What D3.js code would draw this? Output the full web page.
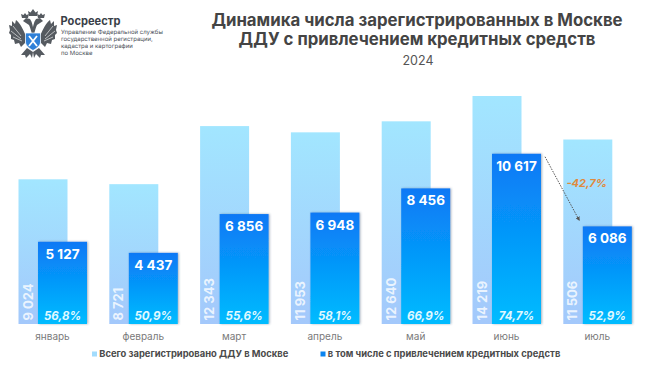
<!DOCTYPE html>
<html>
<head>
<meta charset="utf-8">
<script src="https://cdn.jsdelivr.net/npm/d3@7"></script>
<style>
  html, body { margin: 0; padding: 0; background: #fff; }
  text { font-family: Inter, "Noto Sans", sans-serif; }
  .org-line { text-rendering: geometricPrecision; }
</style>
</head>
<body>
<div id="chart"></div>
<script>
const months = ['январь', 'февраль', 'март', 'апрель', 'май', 'июнь', 'июль'];
const totalValues = [9024, 8721, 12343, 11953, 12640, 14219, 11506];
const creditValues = [5127, 4437, 6856, 6948, 8456, 10617, 6086];
const shareLabels = ['56,8%', '50,9%', '55,6%', '58,1%', '66,9%', '74,7%', '52,9%'];
const legendLabels = ['Всего зарегистрировано ДДУ в Москве', 'в том числе с привлечением кредитных средств'];
const orgSubtitle = ['Управление Федеральной службы', 'государственной регистрации,', 'кадастра и картографии', 'по Москве'];
const titleLines = ['Динамика числа зарегистрированных в Москве', 'ДДУ с привлечением кредитных средств'];

const width = 650, height = 366;
const baseY = 324;
const barW = 49, barOffset = 19.5;

const fmt = d => String(d).replace(/\B(?=(\d{3})+$)/g, ' ');

const svg = d3.select('#chart').append('svg')
    .attr('width', width)
    .attr('height', height)
    .style('display', 'block');

const defs = svg.append('defs');

const lightGrad = defs.append('linearGradient')
    .attr('id', 'lightGrad').attr('x1', 0).attr('x2', 0).attr('y1', 0).attr('y2', 1);
lightGrad.append('stop').attr('offset', '0%').attr('stop-color', '#a2e6ff');
lightGrad.append('stop').attr('offset', '100%').attr('stop-color', '#a3c8fb');

const darkGrad = defs.append('linearGradient')
    .attr('id', 'darkGrad').attr('x1', 0).attr('x2', 0).attr('y1', 0).attr('y2', 1);
darkGrad.append('stop').attr('offset', '0%').attr('stop-color', '#0a78f5');
darkGrad.append('stop').attr('offset', '100%').attr('stop-color', '#00bcff');

const shadow = defs.append('filter').attr('id', 'barShadow')
    .attr('x', '-10%').attr('y', '-10%').attr('width', '125%').attr('height', '120%');
shadow.append('feDropShadow')
    .attr('dx', 1).attr('dy', 0).attr('stdDeviation', 1)
    .attr('flood-color', '#33506e').attr('flood-opacity', 0.45);

defs.append('marker')
    .attr('id', 'arrow').attr('viewBox', '0 0 6 6')
    .attr('refX', 5).attr('refY', 3)
    .attr('markerWidth', 4.5).attr('markerHeight', 4.5)
    .attr('orient', 'auto')
    .append('path').attr('d', 'M0,0L6,3L0,6Z').attr('fill', '#555');

// scales
const x = d3.scaleBand()
    .domain(months)
    .range([18.5, 18.5 + 90.8 * 7])
    .paddingInner(0)
    .paddingOuter(0);

const y = d3.scaleLinear()
    .domain([0, 14219])
    .range([baseY, 96]);

// light bars
svg.append('g').selectAll('rect')
    .data(months)
    .join('rect')
    .attr('x', d => x(d))
    .attr('y', (d, i) => y(totalValues[i]))
    .attr('width', barW)
    .attr('height', (d, i) => baseY - y(totalValues[i]))
    .attr('fill', 'url(#lightGrad)');

// dark bars
svg.append('g').selectAll('rect')
    .data(months)
    .join('rect')
    .attr('x', d => x(d) + barOffset)
    .attr('y', (d, i) => y(creditValues[i]))
    .attr('width', barW)
    .attr('height', (d, i) => baseY - y(creditValues[i]))
    .attr('fill', 'url(#darkGrad)')
    .attr('filter', 'url(#barShadow)');

// vertical totals
svg.append('g').selectAll('text')
    .data(months)
    .join('text')
    .attr('transform', d => `translate(${x(d) + 14},${baseY - 3.5}) rotate(-90)`)
    .attr('font-size', 13)
    .attr('font-weight', 700)
    .attr('fill', '#fff')
    .attr('fill-opacity', 0.8)
    .text((d, i) => fmt(totalValues[i]));

// credit values
svg.append('g').selectAll('text')
    .data(months)
    .join('text')
    .attr('x', d => x(d) + barOffset + barW / 2)
    .attr('y', (d, i) => y(creditValues[i]) + 17)
    .attr('text-anchor', 'middle')
    .attr('font-size', 13.5)
    .attr('font-weight', 700)
    .attr('fill', '#fff')
    .text((d, i) => fmt(creditValues[i]));

// shares
svg.append('g').selectAll('text')
    .data(months)
    .join('text')
    .attr('x', d => x(d) + barOffset + barW / 2)
    .attr('y', baseY - 4.5)
    .attr('text-anchor', 'middle')
    .attr('font-size', 11.5)
    .attr('font-weight', 700)
    .attr('font-style', 'italic')
    .attr('fill', '#e0f9ff')
    .text((d, i) => shareLabels[i]);

// month labels
svg.append('g').selectAll('text')
    .data(months)
    .join('text')
    .attr('x', d => x(d) + 34)
    .attr('y', 339.5)
    .attr('text-anchor', 'middle')
    .attr('font-size', 10)
    .attr('fill', '#7a7a7a')
    .text(d => d);

// June -> July arrow
const jun = months.indexOf('июнь'), jul = months.indexOf('июль');
svg.append('line')
    .attr('x1', x(months[jun]) + barOffset + barW + 4)
    .attr('y1', y(creditValues[jun]) + 3)
    .attr('x2', x(months[jul]) + 16)
    .attr('y2', y(creditValues[jul]) - 6)
    .attr('stroke', '#555')
    .attr('stroke-width', 1)
    .attr('stroke-dasharray', '1.5 1.2')
    .attr('marker-end', 'url(#arrow)');

svg.append('text')
    .attr('x', 586.7)
    .attr('y', 186.7)
    .attr('text-anchor', 'middle')
    .attr('font-size', 11)
    .attr('font-weight', 700)
    .attr('font-style', 'italic')
    .attr('fill', '#e08a3c')
    .text('-42,7%');

// title
svg.append('g').selectAll('text')
    .data(titleLines)
    .join('text')
    .attr('x', 417)
    .attr('y', (d, i) => 26 + i * 18.5)
    .attr('text-anchor', 'middle')
    .attr('font-size', 16.8)
    .attr('font-weight', 700)
    .attr('fill', '#444')
    .text(d => d);

svg.append('text')
    .attr('x', 418)
    .attr('y', 65)
    .attr('text-anchor', 'middle')
    .attr('font-size', 12.5)
    .attr('fill', '#555')
    .text('2024');

// legend
const legendItems = [
  {x: 92, fill: '#a2dcfd', label: legendLabels[0]},
  {x: 320.5, fill: '#0a84f0', label: legendLabels[1]}
];
const legend = svg.append('g').selectAll('g')
    .data(legendItems)
    .join('g')
    .attr('transform', d => `translate(${d.x},357)`);
legend.append('rect')
    .attr('y', -5.5).attr('width', 5).attr('height', 5).attr('fill', d => d.fill);
legend.append('text')
    .attr('x', 7.3)
    .attr('y', 0)
    .attr('font-size', 9.4)
    .attr('font-weight', 700)
    .attr('fill', '#4a4a4a')
    .text(d => d.label);

// org block
svg.append('text')
    .attr('x', 60.5)
    .attr('y', 25)
    .attr('font-size', 11.1)
    .attr('font-weight', 700)
    .attr('fill', '#3a3f48')
    .text('Росреестр');

svg.append('g').selectAll('text.org-line')
    .data(orgSubtitle)
    .join('text')
    .attr('class', 'org-line')
    .attr('x', 61)
    .attr('y', (d, i) => 34 + i * 7)
    .attr('font-size', 6)
    .attr('fill', '#4a4f58')
    .text(d => d);

// emblem, simplified
const logo = svg.append('g').attr('transform', 'translate(33,33)');
const wing = 'M-7,3 C-10,-4 -13,-10 -17,-13 L-18,-9 L-21,-12 L-21,-7 L-24,-8 L-23,-3 L-24,0 L-22,2 L-22,6 L-19,7 L-18,11 L-14,10 L-12,14 L-8,10 Z';
const neck = 'M-1,2 C-2,-3 -3,-6 -4,-8 L-10,-12 L-7,-15 L-3,-14 C-1,-11 0,-8 1,2 Z';
const tail = 'M-6,15 L-12,22 L-8,22 L-7,25 L-3,21 L-1,25 L0,19 Z';
logo.append('path').attr('d', wing).attr('fill', '#555a60');
logo.append('path').attr('d', wing).attr('fill', '#555a60').attr('transform', 'scale(-1,1)');
logo.selectAll('path.feather')
    .data([
      'M-20,-7 L-12,3', 'M-22,-2 L-12,6', 'M-20,4 L-11,8',
      'M20,-7 L12,3', 'M22,-2 L12,6', 'M20,4 L11,8'
    ])
    .join('path')
    .attr('class', 'feather')
    .attr('d', d => d)
    .attr('stroke', '#fff')
    .attr('stroke-width', 0.6);
logo.append('path').attr('d', neck).attr('fill', '#555a60');
logo.append('path').attr('d', neck).attr('fill', '#555a60').attr('transform', 'scale(-1,1)');
logo.append('path').attr('d', tail).attr('fill', '#555a60');
logo.append('path').attr('d', tail).attr('fill', '#555a60').attr('transform', 'scale(-1,1)');
// crowns
logo.append('path')
    .attr('d', 'M-4,-17 L-5,-22 L-2.5,-20.5 L0,-24 L2.5,-20.5 L5,-22 L4,-17 Z')
    .attr('fill', '#555a60');
logo.append('path')
    .attr('d', 'M-11,-15 L-12,-19 L-9.5,-18 L-8,-20 L-6.5,-18 L-4,-19 L-5,-15 Z M11,-15 L12,-19 L9.5,-18 L8,-20 L6.5,-18 L4,-19 L5,-15 Z')
    .attr('fill', '#555a60');
// shield
logo.append('path')
    .attr('d', 'M-7.5,0 H7.5 V9 C7.5,13 3,15.5 0,17.5 C-3,15.5 -7.5,13 -7.5,9 Z')
    .attr('fill', '#2f80d8')
    .attr('stroke', '#fff')
    .attr('stroke-width', 0.7);
logo.append('path')
    .attr('d', 'M-4,3 L4,13 M4,3 L-4,13')
    .attr('stroke', '#fff')
    .attr('stroke-width', 1.8);
</script>
</body>
</html>
